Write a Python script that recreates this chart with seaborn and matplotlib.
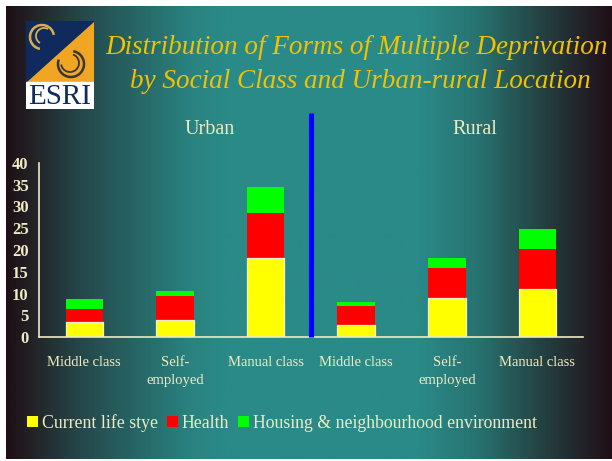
import numpy as np
import pandas as pd
import matplotlib
matplotlib.use("Agg")
import matplotlib.pyplot as plt
from matplotlib.patches import Rectangle, Polygon, Arc, Patch
from matplotlib.colors import LinearSegmentedColormap
import seaborn as sns

# ---- data ----
locations = ["Urban", "Urban", "Urban", "Rural", "Rural", "Rural"]
classes = ["Middle class", "Self-\nemployed", "Manual class",
           "Middle class", "Self-\nemployed", "Manual class"]
lifestyle = [3.5, 4.0, 18.2, 2.9, 9.1, 11.1]
health = [3.0, 5.5, 10.3, 4.35, 6.8, 9.1]
housing = [2.3, 1.1, 5.9, 0.85, 2.3, 4.6]
series_names = ["Current life stye", "Health", "Housing & neighbourhood environment"]
yticks = [0, 5, 10, 15, 20, 25, 30, 35, 40]

W, H = 612, 461
CREAM = "#efeac4"
GOLD = "#f2c200"
YEL, RED, GRN = "#ffff00", "#ff0000", "#00ff00"

sns.set_theme(style="white")
plt.rcParams["font.family"] = ["Liberation Serif", "DejaVu Serif"]

fig = plt.figure(figsize=(W / 100, H / 100), dpi=100, facecolor="white")

def fx(px):
    return px / W

def fy(py):
    return 1 - py / H

# ---- background gradient slide ----
bg = fig.add_axes([fx(5.5), fy(459), fx(611) - fx(5.5), fy(6) - fy(459)], zorder=-10)
cmap = LinearSegmentedColormap.from_list(
    "slide",
    [(0.0, "#1f0f17"), (0.04, "#222226"), (0.12, "#25474a"),
     (0.30, "#29827f"), (0.36, "#2a8a88"), (0.68, "#2a8a88"),
     (0.78, "#277371"), (0.88, "#244444"), (0.95, "#22252a"), (1.0, "#1f0f17")])
grad = np.linspace(0, 1, 600).reshape(1, -1)
bg.imshow(grad, aspect="auto", cmap=cmap, extent=[0, 1, 0, 1])
bg.set_axis_off()

# ---- logo ----
lx0, lx1, ly0, ly1, lyb = 26, 94, 21, 82, 109
la = fig.add_axes([fx(lx0), fy(lyb), fx(lx1) - fx(lx0), fy(ly0) - fy(lyb)], zorder=5)
la.set_xlim(lx0, lx1)
la.set_ylim(lyb, ly0)
la.set_axis_off()
la.add_patch(Rectangle((lx0, ly0), lx1 - lx0, ly1 - ly0, color="#f0a623"))
la.add_patch(Polygon([(lx0, ly0), (lx1, ly0), (lx0, ly1)], color="#0f2a5c"))
la.add_patch(Rectangle((lx0, ly1), lx1 - lx0, lyb - ly1, color="white"))
la.add_patch(Arc((42, 37), 24, 24, theta1=100, theta2=350, color="#d9ad4a", lw=1.8))
la.add_patch(Arc((44, 36), 16, 16, theta1=120, theta2=300, color="#d9ad4a", lw=1.3))
la.add_patch(Arc((71, 64), 26, 26, theta1=-80, theta2=200, color="#3a3530", lw=1.8))
la.add_patch(Arc((70, 63), 18, 18, theta1=-70, theta2=170, color="#3a3530", lw=1.3))
la.text((lx0 + lx1) / 2, 97, "ESRI", color="#0f2a5c", fontsize=21,
        ha="center", va="center", family="Liberation Serif")

# ---- title ----
fig.text(fx(357), fy(48), "Distribution of Forms of Multiple Deprivation",
         color=GOLD, fontsize=19.5, style="italic", ha="center", va="center")
fig.text(fx(360), fy(82), "by Social Class and Urban-rural Location",
         color=GOLD, fontsize=19.5, style="italic", ha="center", va="center")

# ---- chart ----
keys = [f"{l} {c}" for l, c in zip(locations, classes)]
df = pd.DataFrame({"key": keys, "location": locations, "cls": classes,
                   "lifestyle": lifestyle, "health": health, "housing": housing})
df["lh"] = df["lifestyle"] + df["health"]
df["total"] = df["lh"] + df["housing"]

ax = fig.add_axes([fx(39), fy(337.3), fx(582.7) - fx(39), fy(162.7) - fy(337.3)])
ax.set_facecolor("none")
bw = 0.415
sns.barplot(data=df, x="key", y="total", order=keys, color=GRN, saturation=1,
            width=bw, errorbar=None, ax=ax, linewidth=0)
sns.barplot(data=df, x="key", y="lh", order=keys, color=RED, saturation=1,
            width=bw, errorbar=None, ax=ax, linewidth=0)
sns.barplot(data=df, x="key", y="lifestyle", order=keys, color=YEL, saturation=1,
            width=bw, errorbar=None, ax=ax, edgecolor="#f4f2d0", linewidth=0.9)

ax.set_xlim(-0.5, 5.5)
ax.set_ylim(0, 40)
ax.set_xlabel("")
ax.set_ylabel("")
ax.set_yticks(yticks)
ax.set_yticklabels([str(v) for v in yticks], fontweight="bold", fontsize=12, color=CREAM)
ax.set_xticks(range(len(classes)))
ax.set_xticklabels(classes, fontsize=10.5, color=CREAM, linespacing=1.45)
ax.set_xticks(np.arange(-0.5, 6, 1), minor=True)
ax.tick_params(axis="x", which="major", length=0, pad=13.5)
ax.tick_params(axis="x", which="minor", length=4, width=1, color=CREAM, direction="out")
ax.tick_params(axis="y", length=4, width=1, color=CREAM, direction="out", pad=3.5)
for s in ["top", "right"]:
    ax.spines[s].set_visible(False)
for s in ["left", "bottom"]:
    ax.spines[s].set_color(CREAM)
    ax.spines[s].set_linewidth(1.2)

ax.axvline(2.5, ymin=0, ymax=51.5 / 40, color="#0000ff", lw=3.7, clip_on=False,
           zorder=5, solid_capstyle="butt")

fig.text(fx(210), fy(130), "Urban", color=CREAM, fontsize=14.5, ha="center", va="center")
fig.text(fx(475), fy(130), "Rural", color=CREAM, fontsize=14.5, ha="center", va="center")

# ---- legend ----
handles = [Patch(facecolor=c, edgecolor="none") for c in (YEL, RED, GRN)]
leg = fig.legend(handles, series_names, loc="center left",
                 bbox_to_anchor=(fx(27), fy(423)), ncol=3, frameon=False,
                 fontsize=12.8, handlelength=0.62, handleheight=0.62,
                 handletextpad=0.22, columnspacing=0.5, borderpad=0,
                 borderaxespad=0)
for t in leg.get_texts():
    t.set_color(CREAM)

fig.savefig("out.png", dpi=100, facecolor="white")
